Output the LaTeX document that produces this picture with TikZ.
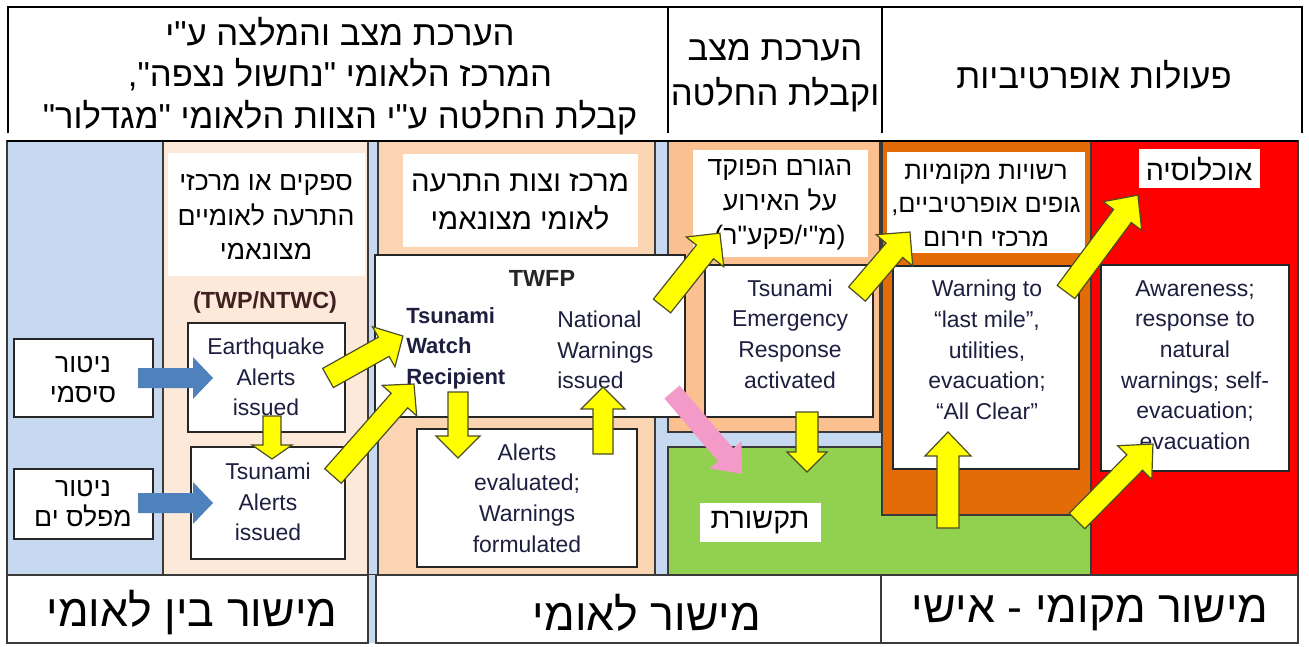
\documentclass[tikz,border=0pt]{standalone}
\usepackage{fontspec}
\setmainfont{Liberation Sans}
\newfontfamily\heb[Script=Hebrew]{Liberation Sans}
\TeXXeTstate=1
\usetikzlibrary{calc}
\definecolor{bgblue}{HTML}{C6D9F1}
\definecolor{lpeach}{HTML}{FDE9D9}
\definecolor{peach}{HTML}{FBD4B4}
\definecolor{tanc}{HTML}{FAC08F}
\definecolor{orng}{HTML}{E36C09}
\definecolor{grn}{HTML}{92D050}
\definecolor{rd}{HTML}{FF0000}
\definecolor{arrblue}{HTML}{4F81BD}
\definecolor{pnk}{HTML}{F49AC8}
\definecolor{yel}{HTML}{FFFF00}
\definecolor{olive}{HTML}{4D4D26}
\definecolor{etxt}{HTML}{1E1E40}
\definecolor{bord}{HTML}{3A3A3A}
\definecolor{maroon}{HTML}{402020}
\newcommand\blockarr[6]{%
  \pgfpointdiff{\pgfpointanchor{#2}{center}}{\pgfpointanchor{#3}{center}}%
  \pgfgetlastxy\ArDx\ArDy
  \pgfmathsetmacro\ArAng{atan2(\ArDy,\ArDx)}%
  \pgfmathsetmacro\ArLen{veclen(\ArDx,\ArDy)/0.75}%
  \begin{scope}[shift={(#2)},rotate=\ArAng,x=0.75pt,y=0.75pt]
    \draw[#1] (0,-#4) -- ({\ArLen-#6},-#4) -- ({\ArLen-#6},-#5) -- (\ArLen,0)
      -- ({\ArLen-#6},#5) -- ({\ArLen-#6},#4) -- (0,#4) -- cycle;
  \end{scope}}
\tikzset{
  panel/.style={draw=bord, line width=1.1pt},
  wbox/.style={draw=black!85, fill=white, line width=1pt},
  lbox/.style={fill=white},
  htxt/.style={font=\heb\fontsize{26}{32}\selectfont, inner sep=0pt},
  btxt/.style={font=\heb\fontsize{33.5}{38}\selectfont, inner sep=0pt},
  ltxt/.style={font=\heb\fontsize{20}{26}\selectfont, align=center, inner sep=0pt},
  etx/.style={text=etxt, align=center, inner sep=0pt, font=\fontsize{17.2}{23}\selectfont},
  yarr/.style={fill=yel, draw=olive, line width=0.9pt},
  barr/.style={fill=arrblue, draw=none},
  parr/.style={fill=pnk, draw=none}
}
\begin{document}
\begin{tikzpicture}[x=0.75pt,y=-0.75pt]
\useasboundingbox (0,0) rectangle (1309,646);
\fill[white] (0,0) rectangle (1309,646);
% ---------- header ----------
\draw[line width=1.1pt] (8,133) -- (8,7) -- (1302,7) -- (1302,133);
\draw[line width=1.1pt] (668,7) -- (668,133);
\draw[line width=1.1pt] (882,7) -- (882,133);
\node[htxt] (h1a) at (340,32) {\beginR הערכת מצב והמלצה ע"י\endR};
\node[htxt] (h1b) at (340,75) {\beginR המרכז הלאומי \hbox{"}נחשול נצפה\hbox{",}\endR};
\node[htxt] (h1c) at (340,118) {\beginR קבלת החלטה ע"י הצוות הלאומי \hbox{"}מגדלור\hbox{"}\endR};
\node[htxt] (h2a) at (775,50) {\beginR הערכת מצב\endR};
\node[htxt] (h2b) at (775,95) {\beginR וקבלת החלטה\endR};
\node[htxt] (h3) at (1094,75) {\beginR פעולות אופרטיביות\endR};
% ---------- body panels ----------
\fill[bgblue] (7,141) rectangle (1298,575);
\draw[panel, fill=lpeach] (163,141) rectangle (368,575);
\draw[panel, fill=peach] (378,141) rectangle (655,575);
\draw[panel, fill=tanc] (668,141) rectangle (880,432);
\draw[panel, fill=grn] (668,447) rectangle (1091,575);
\draw[panel, fill=orng] (882,141) rectangle (1091,515);
\draw[panel, fill=rd] (1091,141) rectangle (1298,575);
\draw[panel] (7,141) rectangle (1298,575);
\draw[line width=2.2pt] (7,141) -- (1298,141);
% ---------- bottom row ----------
\fill[bgblue] (368,575) rectangle (376,643);
\draw[panel, fill=white] (7,575) rectangle (368,643);
\draw[panel, fill=white] (376,575) rectangle (1298,643);
\draw[panel] (881,575) -- (881,643);
\node[btxt] (b1) at (192,613) {\beginR מישור בין לאומי\endR};
\node[btxt] (b2) at (647,613) {\beginR מישור לאומי\endR};
\node[btxt] (b3) at (1090,613) {\beginR מישור מקומי - אישי\endR};
% ---------- label boxes ----------
\fill[lbox] (168,153) rectangle (365,276);
\node[ltxt] (l1) at (266,217) {\beginR ספקים או מרכזי\endR\\\beginR התרעה לאומיים\endR\\\beginR מצונאמי\endR};
\fill[lbox] (403,154) rectangle (638,247);
\node[ltxt, font=\heb\fontsize{22}{29}\selectfont] (l2) at (520,202) {\beginR מרכז וצות התרעה\endR\\\beginR לאומי מצונאמי\endR};
\fill[lbox] (693,150) rectangle (868,257);
\node[ltxt] (l3) at (780,205) {\beginR הגורם הפוקד\endR\\\beginR על האירוע\endR\\\beginR\hbox{(}מ"י/פקע"ר\hbox{)}\endR};
\fill[lbox] (887,152) rectangle (1085,253);
\node[ltxt, font=\heb\fontsize{19}{25}\selectfont] (l4) at (986,205) {\beginR רשויות מקומיות\endR\\\beginR גופים אופרטיביים\hbox{,}\endR\\\beginR מרכזי חירום\endR};
\fill[lbox] (1139,149) rectangle (1260,188);
\node[ltxt, font=\heb\fontsize{21.5}{26}\selectfont] (l5) at (1199,169) {\beginR אוכלוסיה\endR};
\fill[lbox] (700,503) rectangle (821,542);
\node[ltxt, font=\heb\fontsize{21.5}{26}\selectfont] (l6) at (760,523) {\beginR תקשורת\endR};
% ---------- bordered boxes ----------
\draw[wbox] (14,339) rectangle (153,417);
\node[ltxt, font=\heb\fontsize{20}{22.5}\selectfont] (ns) at (83,380) {\beginR ניטור\endR\\\beginR סיסמי\endR};
\draw[wbox] (14,469) rectangle (153,539);
\node[ltxt, font=\heb\fontsize{20}{22.5}\selectfont] (nm) at (83,504) {\beginR ניטור\endR\\\beginR מפלס ים\endR};
\node[font=\bfseries\fontsize{17.5}{20}\selectfont, text=maroon] (twp) at (265,302) {(TWP/NTWC)};
\draw[wbox] (188,323) rectangle (345,432);
\node[etx] (eq) at (266,377) {Earthquake\\Alerts\\issued};
\draw[wbox] (191,447) rectangle (345,559);
\node[etx] (ts) at (268,502) {Tsunami\\Alerts\\issued};
\draw[wbox] (375,255) rectangle (685,417);
\node[font=\bfseries\fontsize{17.5}{20}\selectfont, text=black!85] (twfp) at (542,278) {TWFP};
\node[etx, font=\bfseries\fontsize{16.5}{23}\selectfont, align=left, anchor=west] (twr) at (406,348) {Tsunami\\Watch\\Recipient};
\node[etx, align=left, anchor=west] (nwi) at (557,350) {National\\Warnings\\issued};
\draw[wbox] (417,429) rectangle (637,567);
\node[etx] (ae) at (527,498) {Alerts\\evaluated;\\Warnings\\formulated};
\draw[wbox] (705,265) rectangle (873,417);
\node[etx] (er) at (790,334) {Tsunami\\Emergency\\Response\\activated};
\draw[wbox] (893,266) rectangle (1079,469);
\node[etx] (wl) at (987,350) {Warning to\\“last mile”,\\utilities,\\evacuation;\\“All Clear”};
\draw[wbox] (1101,265) rectangle (1289,471);
\node[etx] (aw) at (1195,365) {Awareness;\\response to\\natural\\warnings; self-\\evacuation;\\evacuation};
% ---------- arrows ----------
\coordinate (a1s) at (138,378); \coordinate (a1e) at (213,378);
\coordinate (a2s) at (138,503); \coordinate (a2e) at (213,503);
\coordinate (a3s) at (272,416); \coordinate (a3e) at (272,459);
\coordinate (a4s) at (328,378); \coordinate (a4e) at (403,336);
\coordinate (a5s) at (333,476); \coordinate (a5e) at (414,384);
\coordinate (a6s) at (458,392); \coordinate (a6e) at (458,458);
\coordinate (a7s) at (603,454); \coordinate (a7e) at (603,387);
\coordinate (a8s) at (662,306); \coordinate (a8e) at (720,233);
\coordinate (a9s) at (857,294); \coordinate (a9e) at (910,232);
\coordinate (a10s) at (807,412); \coordinate (a10e) at (807,472);
\coordinate (a11s) at (672,392); \coordinate (a11e) at (742,474);
\coordinate (a12s) at (1066,292); \coordinate (a12e) at (1138,195);
\coordinate (a13s) at (948,528); \coordinate (a13e) at (948,432);
\coordinate (a14s) at (1077,521); \coordinate (a14e) at (1153,444);
\blockarr{barr}{a1s}{a1e}{10}{21}{20}
\blockarr{barr}{a2s}{a2e}{10}{21}{20}
\blockarr{yarr}{a3s}{a3e}{9}{20}{14}
\blockarr{yarr}{a4s}{a4e}{11}{23}{22}
\blockarr{yarr}{a5s}{a5e}{11}{23}{22}
\blockarr{yarr}{a6s}{a6e}{10}{22}{22}
\blockarr{yarr}{a7s}{a7e}{10}{22}{22}
\blockarr{yarr}{a8s}{a8e}{11}{24}{24}
\blockarr{yarr}{a9s}{a9e}{11}{24}{24}
\blockarr{yarr}{a10s}{a10e}{11}{20}{20}
\blockarr{parr}{a11s}{a11e}{10}{21}{25}
\blockarr{yarr}{a12s}{a12e}{11}{24}{26}
\blockarr{yarr}{a13s}{a13e}{11}{23}{24}
\blockarr{yarr}{a14s}{a14e}{11}{24}{26}
\end{tikzpicture}
\end{document}
